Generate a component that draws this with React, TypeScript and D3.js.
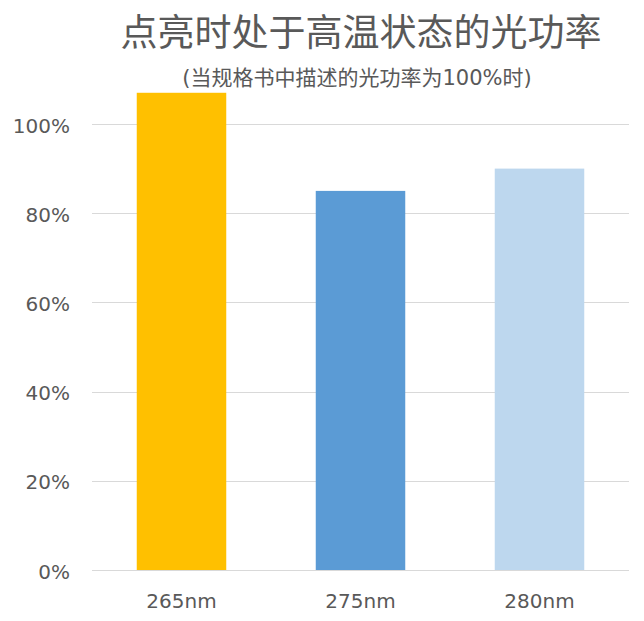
import { useEffect, useRef } from "react";
import * as d3 from "d3";

// 数据：各波长点亮时处于高温状态的光功率（以规格书值为 100%）
const categories = ["265nm", "275nm", "280nm"];
const values = [1.07, 0.85, 0.9];
const barColors = ["#FFC000", "#5B9BD5", "#BDD7EE"];
const yTicks = [0, 0.2, 0.4, 0.6, 0.8, 1.0];

const title = "点亮时处于高温状态的光功率";
const subtitle = "(当规格书中描述的光功率为100%时)";

const W = 644;
const H = 621;
const TEXT = "#595959";
const GRID = "#D9D9D9";
const NUM_FONT = `"DejaVu Sans", "Noto Sans CJK SC", sans-serif`;
const CJK_FONT = `"Noto Sans CJK SC", "DejaVu Sans", sans-serif`;

export default function App() {
  const hostRef = useRef<HTMLDivElement | null>(null);

  useEffect(() => {
    document.body.style.margin = "0";
    if (!hostRef.current) return;
    const host = hostRef.current;
    host.innerHTML = "";

    const x = d3
      .scaleBand<string>()
      .domain(categories)
      .range([92, 629])
      .paddingInner(0.5)
      .paddingOuter(0.25);

    const y = d3.scaleLinear().domain([0, 1]).range([570, 124]);

    const svg = d3
      .create("svg")
      .attr("width", W)
      .attr("height", H)
      .attr("viewBox", `0 0 ${W} ${H}`)
      .style("display", "block")
      .style("background", "#ffffff");

    // 网格线
    svg
      .append("g")
      .selectAll("line")
      .data(yTicks)
      .join("line")
      .attr("x1", x.range()[0])
      .attr("x2", x.range()[1])
      .attr("y1", (d) => Math.round(y(d)) + 0.5)
      .attr("y2", (d) => Math.round(y(d)) + 0.5)
      .attr("stroke", GRID)
      .attr("stroke-width", 1);

    // 柱子
    svg
      .append("g")
      .selectAll("rect")
      .data(values)
      .join("rect")
      .attr("x", (_d, i) => x(categories[i])!)
      .attr("width", x.bandwidth())
      .attr("y", (d) => y(d))
      .attr("height", (d) => y(0) - y(d))
      .attr("fill", (_d, i) => barColors[i]);

    // Y 轴标签
    svg
      .append("g")
      .selectAll("text")
      .data(yTicks)
      .join("text")
      .attr("x", 70)
      .attr("y", (d) => y(d) + 8.5)
      .attr("text-anchor", "end")
      .attr("font-family", NUM_FONT)
      .attr("font-size", 20)
      .attr("fill", TEXT)
      .text((d) => d3.format(".0%")(d));

    // X 轴标签
    svg
      .append("g")
      .selectAll("text")
      .data(categories)
      .join("text")
      .attr("x", (d) => x(d)! + x.bandwidth() / 2)
      .attr("y", y(0) + 38)
      .attr("text-anchor", "middle")
      .attr("font-family", NUM_FONT)
      .attr("font-size", 20)
      .attr("fill", TEXT)
      .text((d) => d);

    // 标题
    svg
      .append("text")
      .attr("x", 361)
      .attr("y", 46)
      .attr("text-anchor", "middle")
      .attr("font-family", CJK_FONT)
      .attr("font-size", 37)
      .attr("fill", TEXT)
      .text(title);

    svg
      .append("text")
      .attr("x", 357)
      .attr("y", 85)
      .attr("text-anchor", "middle")
      .attr("font-family", NUM_FONT)
      .attr("font-size", 21)
      .attr("fill", TEXT)
      .text(subtitle);

    host.appendChild(svg.node()!);
  }, []);

  return <div ref={hostRef} />;
}
